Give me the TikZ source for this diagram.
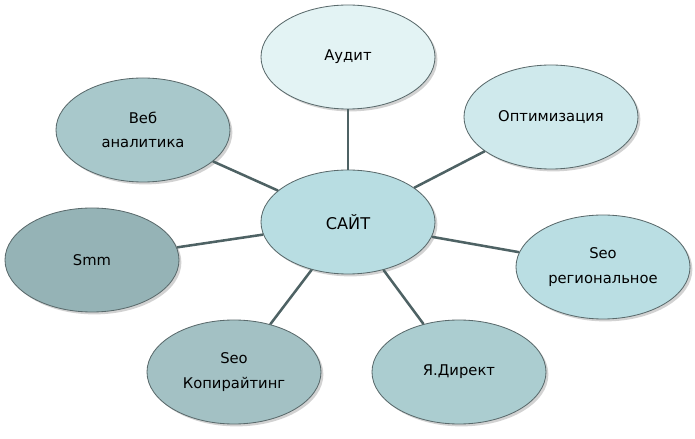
\documentclass[tikz,border=0pt]{standalone}
\usepackage{fontspec}
\setmainfont{DejaVu Sans}
\usetikzlibrary{shapes.geometric, shadows}
\definecolor{edgegray}{HTML}{4E6264}
\definecolor{rimgray}{HTML}{5A6A6C}
\definecolor{auditfill}{HTML}{E3F3F4}
\definecolor{optfill}{HTML}{CFE9EC}
\definecolor{webfill}{HTML}{A8C8CB}
\definecolor{sitefill}{HTML}{B8DDE2}
\definecolor{smmfill}{HTML}{95B3B6}
\definecolor{regfill}{HTML}{BADEE3}
\definecolor{copyfill}{HTML}{A3C1C4}
\definecolor{directfill}{HTML}{ABCDD0}
\tikzset{
    topic/.style={ellipse, draw=rimgray, line width=0.6pt,
        minimum width=4.35cm, minimum height=2.6cm, align=center,
        font=\fontsize{10.5}{17.5}\selectfont,
        drop shadow={shadow xshift=0.6mm, shadow yshift=-0.6mm, fill=black!35}},
    link/.style={draw=edgegray, line width=1.8pt},
}
\begin{document}
\begin{tikzpicture}
        \useasboundingbox (-8.7,-5.425) rectangle (8.675,5.55);
        % Hub
        \node (site) [topic, fill=sitefill, font=\fontsize{11.5}{15}\selectfont] at (0,0) {САЙТ};

        % Surrounding topics
        \node (audit)  [topic, fill=auditfill]  at (0,4.125)      {Аудит};
        \node (optim)  [topic, fill=optfill]    at (5.075,2.625)  {Оптимизация};
        \node (web)    [topic, fill=webfill]    at (-5.125,2.3)   {Веб\\аналитика};
        \node (smm)    [topic, fill=smmfill]    at (-6.4,-0.95)   {Smm};
        \node (reg)    [topic, fill=regfill]    at (6.375,-1.125) {Seo\\региональное};
        \node (copy)   [topic, fill=copyfill]   at (-2.85,-3.75)  {Seo\\Копирайтинг};
        \node (direct) [topic, fill=directfill] at (2.775,-3.75)  {Я.Директ};

        % Links
        \path [link] (site) edge (audit)
              (site) edge (optim)
              (site) edge (web)
              (site) edge (smm)
              (site) edge (reg)
              (site) edge (copy)
              (site) edge (direct);
    \end{tikzpicture}
\end{document}
